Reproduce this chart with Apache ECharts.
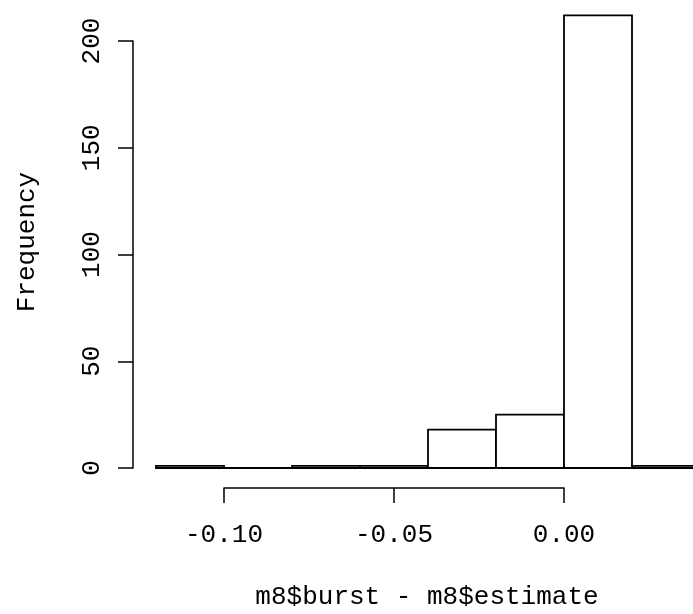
<!DOCTYPE html>
<html>
<head>
<meta charset="utf-8">
<script src="https://cdn.jsdelivr.net/npm/echarts@6/dist/echarts.min.js"></script>
<style>
  html, body { margin: 0; padding: 0; background: #fff; }
  #chart { width: 693px; height: 614px; }
</style>
</head>
<body>
<div id="chart"></div>
<script>
// histogram bins (left / right edges) and counts
const binLeft  = [-0.12, -0.10, -0.08, -0.06, -0.04, -0.02, 0.00, 0.02];
const binRight = [-0.10, -0.08, -0.06, -0.04, -0.02, 0.00, 0.02, 0.04];
const counts   = [1, 0, 1, 1, 18, 25, 212, 1];

const xTitle = 'm8$burst - m8$estimate';
const yTitle = 'Frequency';

const font = 'Liberation Mono';

const chart = echarts.init(document.getElementById('chart'));

chart.setOption({
  backgroundColor: '#fff',
  animation: false,
  grid: { left: 224, right: 129, top: 41, bottom: 146 },
  xAxis: {
    type: 'value',
    min: -0.10, max: 0.00, interval: 0.05,
    offset: 20,
    axisLine: { show: true, onZero: false, lineStyle: { color: '#000', width: 1.5 } },
    axisTick: { show: true, length: 15, lineStyle: { color: '#000', width: 1.5 } },
    axisLabel: {
      color: '#000', fontFamily: font, fontSize: 26, margin: 34,
      formatter: v => v.toFixed(2)
    },
    splitLine: { show: false }
  },
  yAxis: {
    type: 'value',
    min: 0, max: 200, interval: 50,
    offset: 91,
    axisLine: { show: true, onZero: false, lineStyle: { color: '#000', width: 1.5 } },
    axisTick: { show: true, length: 15, lineStyle: { color: '#000', width: 1.5 } },
    axisLabel: { color: '#000', fontFamily: font, fontSize: 26, rotate: 90, margin: 28 },
    splitLine: { show: false }
  },
  graphic: [
    {
      type: 'text', x: 27, y: 242, rotation: Math.PI / 2,
      style: { text: yTitle, fill: '#000', font: '26px "' + font + '"', align: 'center', verticalAlign: 'middle' }
    },
    {
      type: 'text', x: 427, y: 597,
      style: { text: xTitle, fill: '#000', font: '26px "' + font + '"', align: 'center', verticalAlign: 'middle' }
    }
  ],
  series: [{
    type: 'custom',
    clip: false,
    data: counts.map((c, i) => [binLeft[i], binRight[i], c]),
    renderItem: (params, api) => {
      const p0 = api.coord([api.value(0), api.value(2)]);
      const p1 = api.coord([api.value(1), 0]);
      return {
        type: 'rect',
        shape: { x: p0[0], y: p0[1], width: p1[0] - p0[0], height: p1[1] - p0[1] },
        style: { fill: '#fff', stroke: '#000', lineWidth: 1.8 }
      };
    }
  }]
});
</script>
</body>
</html>
